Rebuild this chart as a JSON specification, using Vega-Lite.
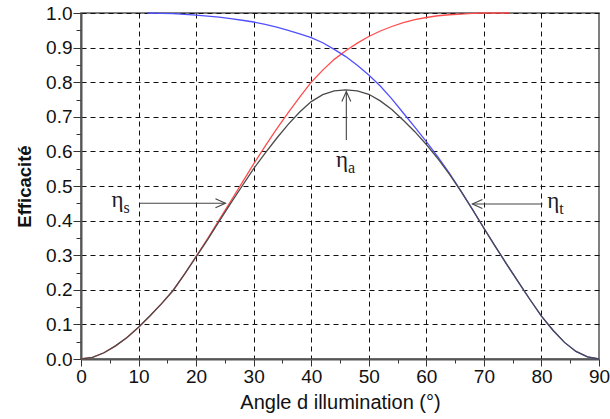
{
  "$schema": "https://vega.github.io/schema/vega-lite/v6.json",
  "width": 518,
  "height": 346,
  "padding": {"left": 81, "top": 13, "right": 11, "bottom": 60},
  "autosize": {"type": "none"},
  "background": "white",
  "config": {
    "font": "Liberation Sans",
    "view": {"stroke": "#555", "strokeWidth": 1.5},
    "axis": {
      "labelFont": "Liberation Sans",
      "labelFontSize": 19,
      "labelColor": "#111",
      "labelOverlap": false,
      "titleFont": "Liberation Sans",
      "titleFontSize": 20,
      "titleFontWeight": "normal",
      "titleColor": "#111",
      "domainColor": "#555",
      "domainWidth": 2,
      "tickColor": "#333",
      "gridColor": "#111",
      "gridDash": [5, 4],
      "gridWidth": 1
    }
  },
  "datasets": {
    "curves": [
      {"series": "a", "angle": 0, "value": 0},
      {"series": "a", "angle": 2, "value": 0.005},
      {"series": "a", "angle": 4, "value": 0.018},
      {"series": "a", "angle": 6, "value": 0.038},
      {"series": "a", "angle": 8, "value": 0.062},
      {"series": "a", "angle": 10, "value": 0.092},
      {"series": "a", "angle": 12, "value": 0.125},
      {"series": "a", "angle": 14, "value": 0.16},
      {"series": "a", "angle": 16, "value": 0.198},
      {"series": "a", "angle": 18, "value": 0.245},
      {"series": "a", "angle": 20, "value": 0.295},
      {"series": "a", "angle": 22, "value": 0.345},
      {"series": "a", "angle": 24, "value": 0.398},
      {"series": "a", "angle": 26, "value": 0.45},
      {"series": "a", "angle": 28, "value": 0.5},
      {"series": "a", "angle": 30, "value": 0.55},
      {"series": "a", "angle": 32, "value": 0.595},
      {"series": "a", "angle": 34, "value": 0.638},
      {"series": "a", "angle": 36, "value": 0.678},
      {"series": "a", "angle": 38, "value": 0.714},
      {"series": "a", "angle": 40, "value": 0.744},
      {"series": "a", "angle": 42, "value": 0.764},
      {"series": "a", "angle": 44, "value": 0.775},
      {"series": "a", "angle": 46, "value": 0.778},
      {"series": "a", "angle": 48, "value": 0.775},
      {"series": "a", "angle": 50, "value": 0.765},
      {"series": "a", "angle": 52, "value": 0.746},
      {"series": "a", "angle": 54, "value": 0.721},
      {"series": "a", "angle": 56, "value": 0.69},
      {"series": "a", "angle": 58, "value": 0.657},
      {"series": "a", "angle": 60, "value": 0.62},
      {"series": "a", "angle": 62, "value": 0.579},
      {"series": "a", "angle": 64, "value": 0.534},
      {"series": "a", "angle": 66, "value": 0.485},
      {"series": "a", "angle": 68, "value": 0.432},
      {"series": "a", "angle": 70, "value": 0.378},
      {"series": "a", "angle": 72, "value": 0.325},
      {"series": "a", "angle": 74, "value": 0.273},
      {"series": "a", "angle": 76, "value": 0.222},
      {"series": "a", "angle": 78, "value": 0.172},
      {"series": "a", "angle": 80, "value": 0.124},
      {"series": "a", "angle": 82, "value": 0.083},
      {"series": "a", "angle": 84, "value": 0.048},
      {"series": "a", "angle": 86, "value": 0.022},
      {"series": "a", "angle": 88, "value": 0.006},
      {"series": "a", "angle": 90, "value": 0},
      {"series": "s", "angle": 0, "value": 0},
      {"series": "s", "angle": 2, "value": 0.005},
      {"series": "s", "angle": 4, "value": 0.018},
      {"series": "s", "angle": 6, "value": 0.038},
      {"series": "s", "angle": 8, "value": 0.062},
      {"series": "s", "angle": 10, "value": 0.092},
      {"series": "s", "angle": 12, "value": 0.125},
      {"series": "s", "angle": 14, "value": 0.16},
      {"series": "s", "angle": 16, "value": 0.198},
      {"series": "s", "angle": 18, "value": 0.246},
      {"series": "s", "angle": 20, "value": 0.297},
      {"series": "s", "angle": 22, "value": 0.348},
      {"series": "s", "angle": 24, "value": 0.402},
      {"series": "s", "angle": 26, "value": 0.456},
      {"series": "s", "angle": 28, "value": 0.51},
      {"series": "s", "angle": 30, "value": 0.564},
      {"series": "s", "angle": 32, "value": 0.615},
      {"series": "s", "angle": 34, "value": 0.665},
      {"series": "s", "angle": 36, "value": 0.712},
      {"series": "s", "angle": 38, "value": 0.757},
      {"series": "s", "angle": 40, "value": 0.8},
      {"series": "s", "angle": 42, "value": 0.835},
      {"series": "s", "angle": 44, "value": 0.866},
      {"series": "s", "angle": 46, "value": 0.891},
      {"series": "s", "angle": 48, "value": 0.913},
      {"series": "s", "angle": 50, "value": 0.932},
      {"series": "s", "angle": 52, "value": 0.948},
      {"series": "s", "angle": 54, "value": 0.961},
      {"series": "s", "angle": 56, "value": 0.972},
      {"series": "s", "angle": 58, "value": 0.981},
      {"series": "s", "angle": 60, "value": 0.987},
      {"series": "s", "angle": 62, "value": 0.992},
      {"series": "s", "angle": 64, "value": 0.995},
      {"series": "s", "angle": 66, "value": 0.997},
      {"series": "s", "angle": 68, "value": 0.999},
      {"series": "s", "angle": 70, "value": 1.0},
      {"series": "s", "angle": 72, "value": 1.0},
      {"series": "s", "angle": 74.5, "value": 1.0},
      {"series": "t", "angle": 11.5, "value": 1.0},
      {"series": "t", "angle": 14, "value": 0.999},
      {"series": "t", "angle": 16, "value": 0.998},
      {"series": "t", "angle": 18, "value": 0.996},
      {"series": "t", "angle": 20, "value": 0.994},
      {"series": "t", "angle": 22, "value": 0.991},
      {"series": "t", "angle": 24, "value": 0.988},
      {"series": "t", "angle": 26, "value": 0.984},
      {"series": "t", "angle": 28, "value": 0.979},
      {"series": "t", "angle": 30, "value": 0.974},
      {"series": "t", "angle": 32, "value": 0.967},
      {"series": "t", "angle": 34, "value": 0.959},
      {"series": "t", "angle": 36, "value": 0.95},
      {"series": "t", "angle": 38, "value": 0.94},
      {"series": "t", "angle": 40, "value": 0.929},
      {"series": "t", "angle": 42, "value": 0.914},
      {"series": "t", "angle": 44, "value": 0.895},
      {"series": "t", "angle": 46, "value": 0.874},
      {"series": "t", "angle": 48, "value": 0.849},
      {"series": "t", "angle": 50, "value": 0.821},
      {"series": "t", "angle": 52, "value": 0.789},
      {"series": "t", "angle": 54, "value": 0.752},
      {"series": "t", "angle": 56, "value": 0.711},
      {"series": "t", "angle": 58, "value": 0.67},
      {"series": "t", "angle": 60, "value": 0.628},
      {"series": "t", "angle": 62, "value": 0.584},
      {"series": "t", "angle": 64, "value": 0.537},
      {"series": "t", "angle": 66, "value": 0.486},
      {"series": "t", "angle": 68, "value": 0.433},
      {"series": "t", "angle": 70, "value": 0.378},
      {"series": "t", "angle": 72, "value": 0.325},
      {"series": "t", "angle": 74, "value": 0.273},
      {"series": "t", "angle": 76, "value": 0.222},
      {"series": "t", "angle": 78, "value": 0.172},
      {"series": "t", "angle": 80, "value": 0.124},
      {"series": "t", "angle": 82, "value": 0.083},
      {"series": "t", "angle": 84, "value": 0.048},
      {"series": "t", "angle": 86, "value": 0.022},
      {"series": "t", "angle": 88, "value": 0.006},
      {"series": "t", "angle": 90, "value": 0}
    ],
    "arrows": [
      {"name": "s", "x": 10.2, "x2": 25.1, "y": 0.45, "y2": 0.45},
      {"name": "a", "x": 46.1, "x2": 46.1, "y": 0.633, "y2": 0.773},
      {"name": "t", "x": 80.2, "x2": 68.0, "y": 0.448, "y2": 0.448}
    ],
    "labels": [
      {"main": "η", "sub": "s", "x": 5.3, "y": 0.44},
      {"main": "η", "sub": "a", "x": 44.3, "y": 0.556},
      {"main": "η", "sub": "t", "x": 81.0, "y": 0.435}
    ]
  },
  "layer": [
    {
      "data": {"name": "curves"},
      "transform": [{"filter": "datum.series === 's'"}],
      "mark": {"type": "line", "color": "#ff4d4d", "strokeWidth": 1.3},
      "encoding": {
        "x": {
          "field": "angle", "type": "quantitative",
          "scale": {"domain": [0, 90], "nice": false},
          "axis": {
            "title": "Angle d illumination (°)",
            "values": [0, 5, 10, 15, 20, 25, 30, 35, 40, 45, 50, 55, 60, 65, 70, 75, 80, 85, 90],
            "tickCount": 100,
            "labelExpr": "datum.value % 10 === 0 ? datum.label : ''",
            "tickSize": {"condition": {"test": "datum.value % 10 !== 0", "value": 4}, "value": 7},
            "gridOpacity": {"condition": {"test": "datum.value % 10 !== 0 || datum.value === 0 || datum.value === 90", "value": 0}, "value": 1},
            "labelPadding": 1,
            "titlePadding": 6,
            "labelFlush": false
          }
        },
        "y": {
          "field": "value", "type": "quantitative",
          "scale": {"domain": [0, 1], "nice": false},
          "axis": {
            "title": "Efficacité",
            "titleFontWeight": "bold",
            "titleFontSize": 18.5,
            "values": [0, 0.05, 0.1, 0.15, 0.2, 0.25, 0.3, 0.35, 0.4, 0.45, 0.5, 0.55, 0.6, 0.65, 0.7, 0.75, 0.8, 0.85, 0.9, 0.95, 1.0],
            "tickCount": 100,
            "labelExpr": "abs(datum.value*10 - round(datum.value*10)) < 0.01 ? format(datum.value, '.1f') : ''",
            "tickSize": {"condition": {"test": "abs(datum.value*10 - round(datum.value*10)) > 0.01", "value": 5}, "value": 8},
            "gridOpacity": {"condition": {"test": "abs(datum.value*10 - round(datum.value*10)) > 0.01 || datum.value === 0", "value": 0}, "value": 1},
            "labelPadding": 1,
            "titlePadding": 11,
            "labelFlush": false
          }
        }
      }
    },
    {
      "data": {"name": "curves"},
      "transform": [{"filter": "datum.series === 't'"}],
      "mark": {"type": "line", "color": "#5050ff", "strokeWidth": 1.3},
      "encoding": {
        "x": {"field": "angle", "type": "quantitative"},
        "y": {"field": "value", "type": "quantitative"}
      }
    },
    {
      "data": {"name": "curves"},
      "transform": [{"filter": "datum.series === 'a'"}],
      "mark": {"type": "line", "color": "#4a4a4a", "strokeWidth": 1.3},
      "encoding": {
        "x": {"field": "angle", "type": "quantitative"},
        "y": {"field": "value", "type": "quantitative"}
      }
    },
    {
      "data": {"name": "arrows"},
      "mark": {"type": "rule", "color": "#444", "strokeWidth": 1.1},
      "encoding": {
        "x": {"field": "x", "type": "quantitative"},
        "x2": {"field": "x2"},
        "y": {"field": "y", "type": "quantitative"},
        "y2": {"field": "y2"}
      }
    },
    {
      "data": {"name": "arrows"},
      "transform": [{"filter": "datum.name === 's'"}],
      "mark": {"type": "point", "shape": "M-2,-0.9L0,0L-2,0.9", "filled": false, "stroke": "#444", "strokeWidth": 1.1, "size": 100, "opacity": 1},
      "encoding": {
        "x": {"field": "x2", "type": "quantitative"},
        "y": {"field": "y2", "type": "quantitative"}
      }
    },
    {
      "data": {"name": "arrows"},
      "transform": [{"filter": "datum.name === 't'"}],
      "mark": {"type": "point", "shape": "M2,-0.9L0,0L2,0.9", "filled": false, "stroke": "#444", "strokeWidth": 1.1, "size": 100, "opacity": 1},
      "encoding": {
        "x": {"field": "x2", "type": "quantitative"},
        "y": {"field": "y2", "type": "quantitative"}
      }
    },
    {
      "data": {"name": "arrows"},
      "transform": [{"filter": "datum.name === 'a'"}],
      "mark": {"type": "point", "shape": "M-0.9,2L0,0L0.9,2", "filled": false, "stroke": "#444", "strokeWidth": 1.1, "size": 100, "opacity": 1},
      "encoding": {
        "x": {"field": "x2", "type": "quantitative"},
        "y": {"field": "y2", "type": "quantitative"}
      }
    },
    {
      "data": {"name": "labels"},
      "mark": {"type": "text", "font": "Liberation Serif", "fontSize": 23, "align": "left", "baseline": "alphabetic", "color": "#1c1c28"},
      "encoding": {
        "x": {"field": "x", "type": "quantitative"},
        "y": {"field": "y", "type": "quantitative"},
        "text": {"field": "main"}
      }
    },
    {
      "data": {"name": "labels"},
      "mark": {"type": "text", "font": "Liberation Serif", "fontSize": 16, "align": "left", "baseline": "alphabetic", "color": "#1c1c28", "dx": 12, "dy": 6},
      "encoding": {
        "x": {"field": "x", "type": "quantitative"},
        "y": {"field": "y", "type": "quantitative"},
        "text": {"field": "sub"}
      }
    }
  ]
}
